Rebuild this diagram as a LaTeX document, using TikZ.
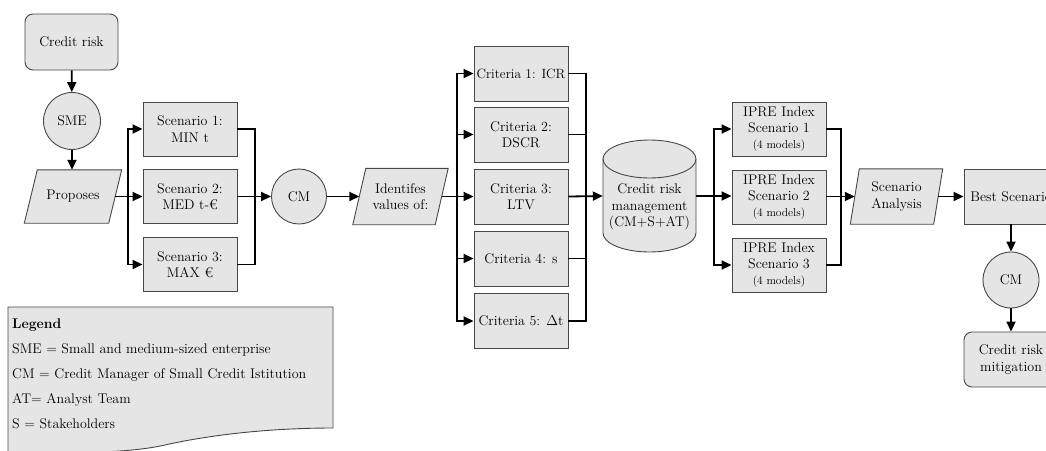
\documentclass[tikz,border=0pt]{standalone}
\usetikzlibrary{arrows.meta,backgrounds}
\definecolor{boxfill}{gray}{0.9}
\definecolor{boxdraw}{gray}{0.28}
\newcommand\mainfs{\fontsize{14}{16.5}\selectfont}
\tikzset{
  base/.style={draw=boxdraw, fill=boxfill, line width=0.9pt, align=center,
    font=\mainfs, inner sep=0pt},
  box/.style={base, rectangle, minimum width=94pt, minimum height=54pt},
  rbox/.style={box, rounded corners=8pt},
  circ/.style={base, circle, minimum size=55pt},
  ghost/.style={draw=none, fill=none, align=center, inner sep=0pt, font=\mainfs},
  arr/.style={line width=1.8pt, -{Triangle[length=10pt,width=9pt]}},
  ln/.style={line width=1.8pt},
  legtext/.style={anchor=base west, inner sep=0pt, font=\mainfs},
}
% #1 name, #2 cx, #3 cy, #4 mid width, #5 height, #6 half skew, #7 text
\newcommand\pgram[7]{%
  \node[ghost, minimum width=#4pt, minimum height=#5pt] (#1) at (#2,#3) {#7};
  \begin{scope}[on background layer]
    \draw[base] ([xshift=#6pt]#1.north west) -- ([xshift=#6pt]#1.north east)
      -- ([xshift=-#6pt]#1.south east) -- ([xshift=-#6pt]#1.south west) -- cycle;
  \end{scope}}
\begin{document}
\begin{tikzpicture}[x=1pt,y=-1pt]
\useasboundingbox (0,0) rectangle (1046,450);
\clip (0,0) rectangle (1046,450);

% left column
\node[rbox, minimum width=93pt, minimum height=56pt] (cr) at (71.5,42) {Credit risk};
\node[circ, minimum size=57pt] (sme) at (72,121) {SME};
\pgram{prop}{73}{196.5}{84}{53}{6.5}{Proposes}

% scenarios
\node[box] (sc1) at (190,129) {Scenario 1:\\MIN t};
\node[box] (sc2) at (190,196.5) {Scenario 2:\\MED t-€};
\node[box] (sc3) at (190,264.5) {Scenario 3:\\MAX €};
\node[circ] (cm1) at (299,196.5) {CM};
\pgram{ide}{400.5}{196.5}{82}{56}{6.5}{Identifes\\values of:}

% criteria
\node[box, minimum height=55pt, font=\fontsize{13.4}{16.5}\selectfont] (c1) at (521,73.5) {Criteria 1: ICR};
\node[box, minimum height=55pt] (c2) at (521,134.5) {Criteria 2:\\DSCR};
\node[box, minimum height=55pt] (c3) at (521,196.5) {Criteria 3:\\LTV};
\node[box, minimum height=55pt] (c4) at (521,258.5) {Criteria 4: s};
\node[box, minimum height=55pt] (c5) at (521,321) {Criteria 5: $\Delta$t};

% cylinder
\node[ghost, minimum width=93pt, minimum height=112pt] (crm) at (649.5,196) {};
\begin{scope}[on background layer]
  \draw[base] (603,159) -- (603,233)
    arc[start angle=180, end angle=360, x radius=46.5pt, y radius=19pt]
    -- (696,159)
    arc[start angle=0, end angle=180, x radius=46.5pt, y radius=19pt] -- cycle;
  \draw[draw=boxdraw, line width=0.9pt] (603,159)
    arc[start angle=180, end angle=360, x radius=46.5pt, y radius=19pt];
\end{scope}
\node[ghost] (crmtext) at (649.5,207) {Credit risk\\management\\(CM+S+AT)};

% IPRE
\node[box] (ip1) at (779,129) {IPRE Index\\Scenario 1\\[-1pt]{\fontsize{11.5}{13}\selectfont (4 models)}};
\node[box] (ip2) at (779,197) {IPRE Index\\Scenario 2\\[-1pt]{\fontsize{11.5}{13}\selectfont (4 models)}};
\node[box] (ip3) at (779,265) {IPRE Index\\Scenario 3\\[-1pt]{\fontsize{11.5}{13}\selectfont (4 models)}};
\pgram{sa}{896.5}{196.5}{83}{55}{4.5}{Scenario\\Analysis}

% right column
\node[box, minimum height=55pt] (best) at (1011,196.5) {Best Scenario};
\node[circ, minimum size=56pt] (cm2) at (1011,280) {CM};
\node[rbox, minimum height=55pt] (mit) at (1011,359.5) {Credit risk\\mitigation};

% branch coordinates
\coordinate (b1) at (128,196.5);
\coordinate (m1) at (255,196.5);
\coordinate (b2) at (457,196.5);
\coordinate (m2) at (586,196.5);
\coordinate (b3) at (714,196.5);
\coordinate (m3) at (841,196.5);

% connectors
\draw[arr] (cr) -- (sme);
\draw[arr] (sme) -- (sme |- prop.north);
\draw[arr] (prop.east) -- (sc2.west);
\draw[arr] (b1) |- (sc1.west);
\draw[arr] (b1) |- (sc3.west);
\draw[ln] (sc1.east) -| (m1);
\draw[ln] (sc3.east) -| (m1);
\draw[arr] (sc2.east) -- (cm1.west);
\draw[arr] (cm1.east) -- (ide.west);

\draw[arr] (ide.east) -- (c3.west);
\draw[arr] (b2) |- (c1.west);
\draw[arr] (b2) |- (c2.west);
\draw[arr] (b2) |- (c4.west);
\draw[arr] (b2) |- (c5.west);
\draw[ln] (c1.east) -| (m2);
\draw[ln] (c2.east) -| (m2);
\draw[ln] (c4.east) -| (m2);
\draw[ln] (c5.east) -| (m2);
\draw[arr] (c3.east) -- (crm.west);

\draw[arr] (crm.east) -- (ip2.west |- crm.east);
\draw[arr] (b3) |- (ip1.west);
\draw[arr] (b3) |- (ip3.west);
\draw[ln] (ip1.east) -| (m3);
\draw[ln] (ip3.east) -| (m3);
\draw[arr] (ip2.east |- sa.west) -- (sa.west);
\draw[arr] (sa.east) -- (best.west);
\draw[arr] (best) -- (cm2);
\draw[arr] (cm2) -- (mit);

% legend
\draw[base] (8,307) -- (333,307) -- (333,428)
  .. controls (260,428) and (200,437) .. (165,445)
  .. controls (120,455) and (60,452) .. (8,452) -- cycle;
\node[legtext, font=\mainfs\bfseries] (lg0) at (12,328) {Legend};
\node[legtext] (lg1) at (12,353) {SME = Small and medium-sized enterprise};
\node[legtext] (lg2) at (12,378) {CM = Credit Manager of Small Credit Istitution};
\node[legtext] (lg3) at (12,403) {AT= Analyst Team};
\node[legtext] (lg4) at (12,428) {S = Stakeholders};
\end{tikzpicture}
\end{document}
